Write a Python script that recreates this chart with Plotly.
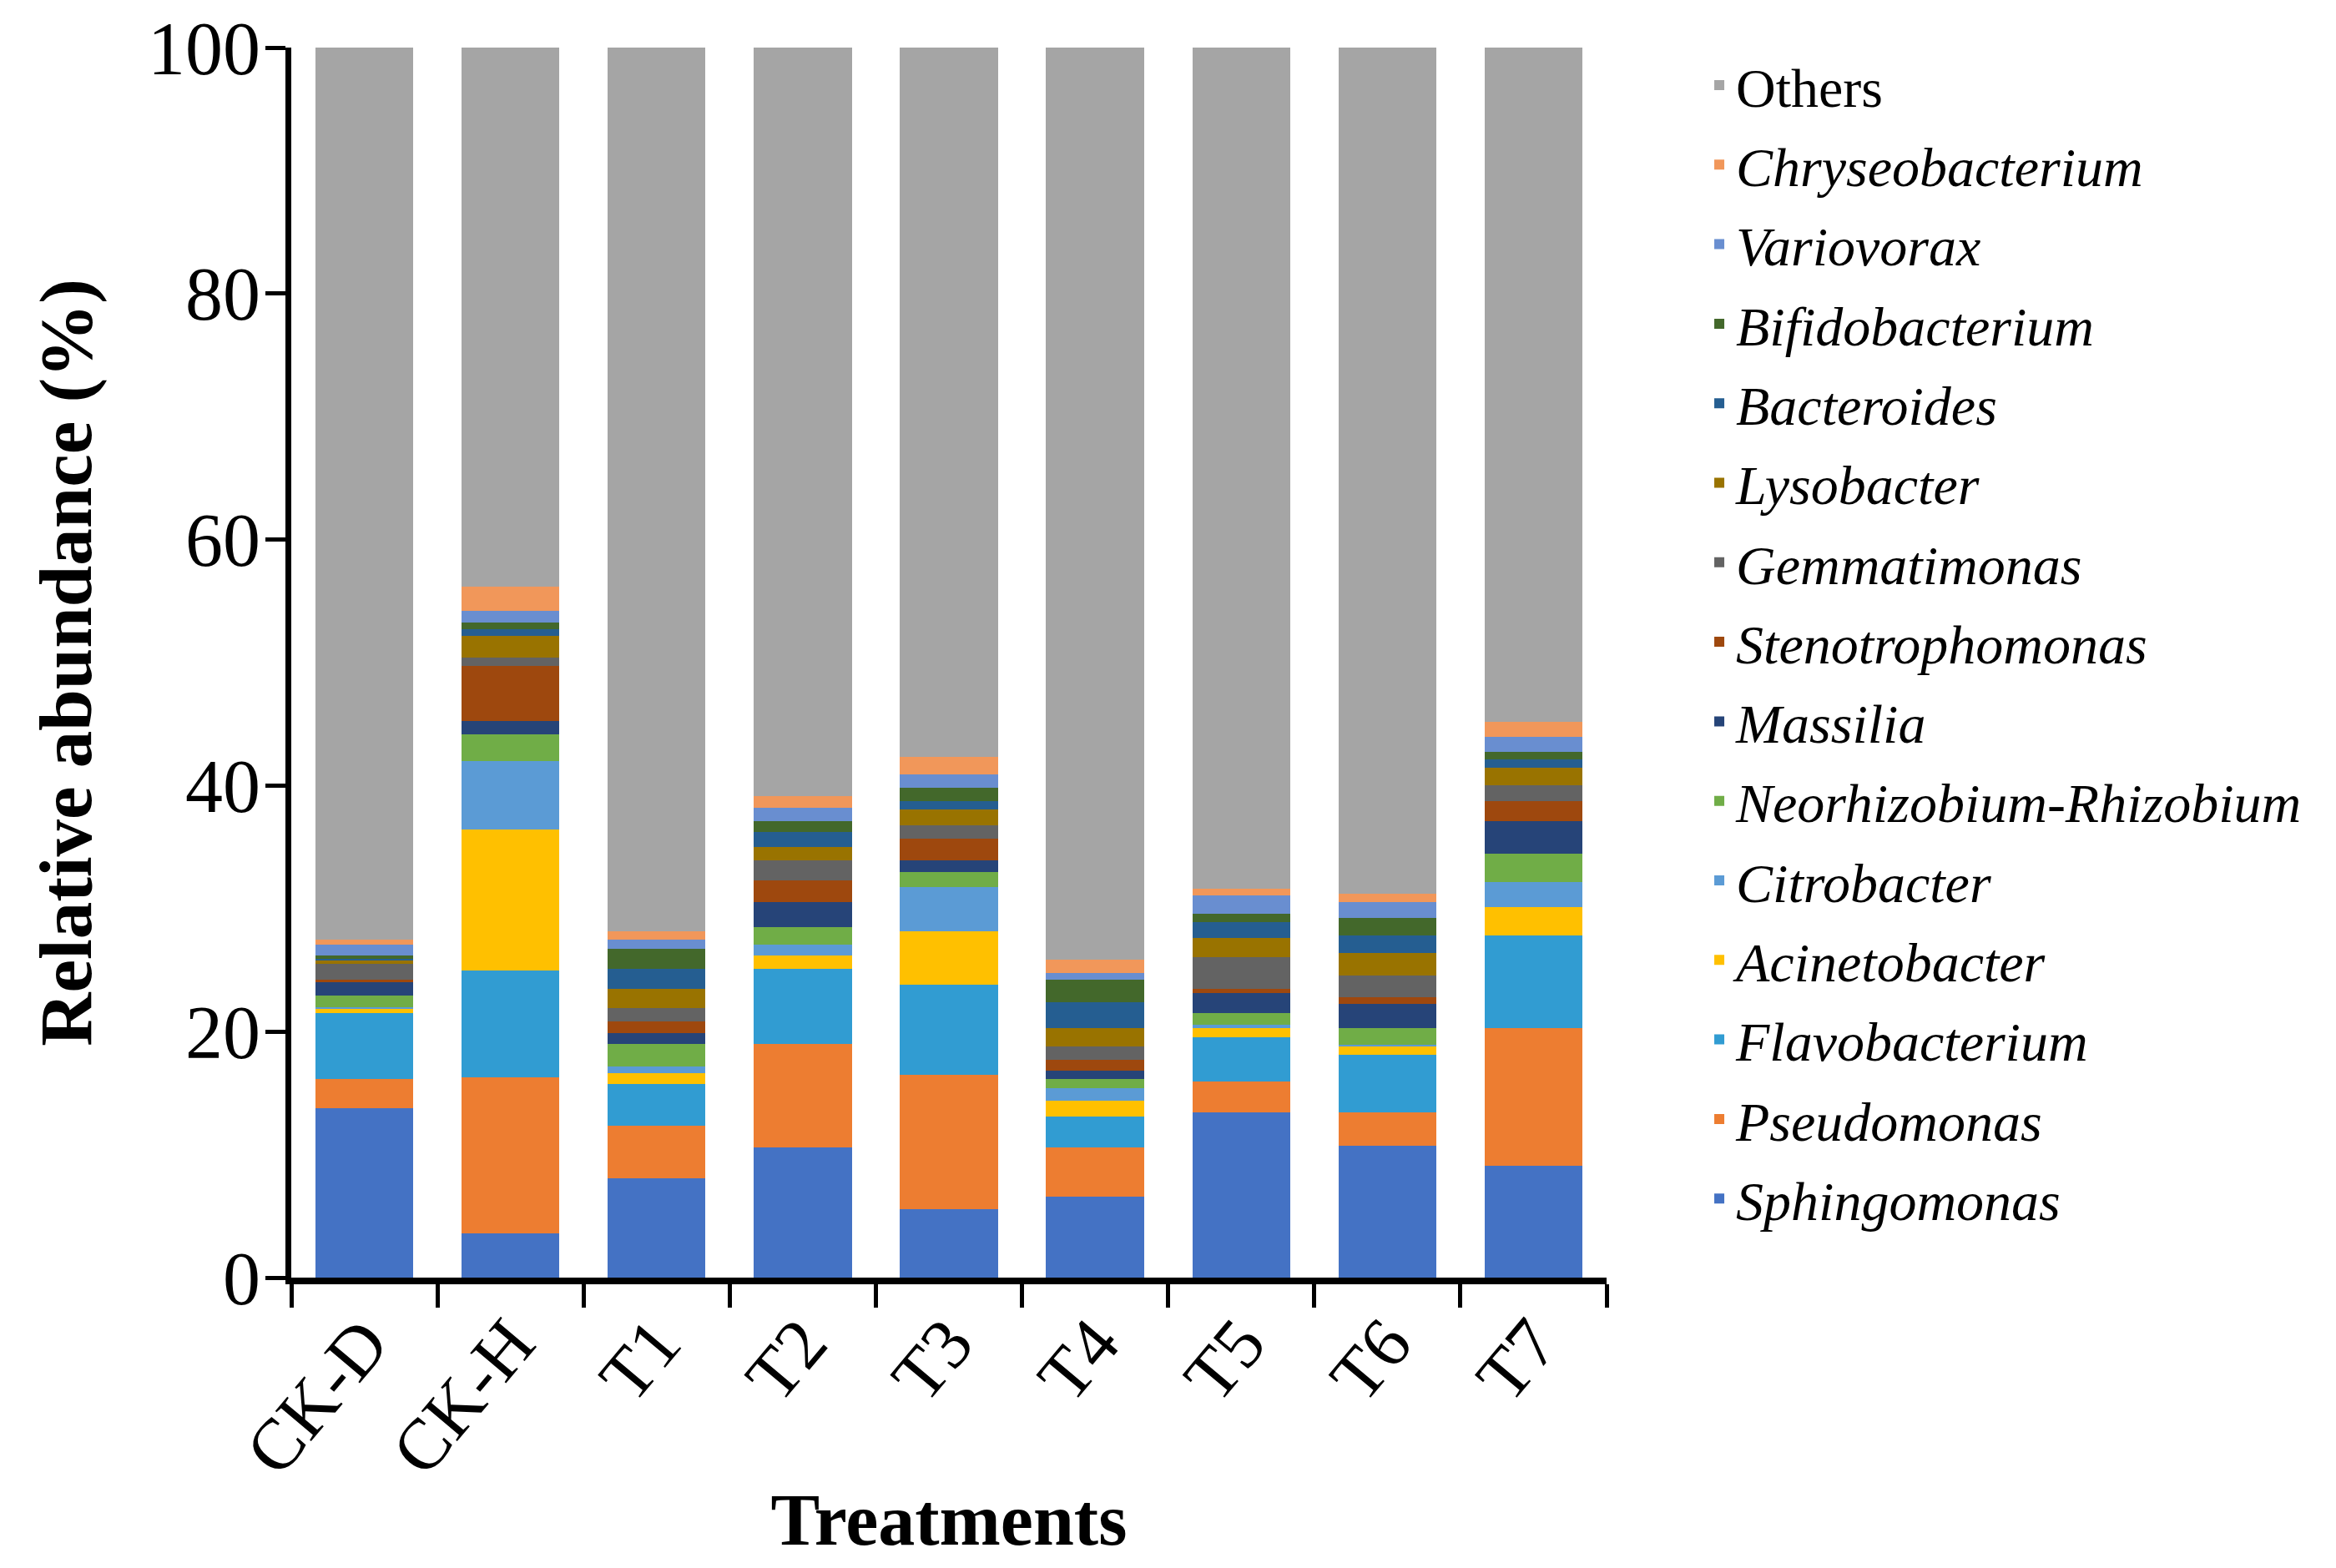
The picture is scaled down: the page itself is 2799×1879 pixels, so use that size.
import plotly.graph_objects as go

categories = ["CK-D", "CK-H", "T1", "T2", "T3", "T4", "T5", "T6", "T7"]

sphingomonas = [13.77, 3.57, 8.05, 10.56, 5.54, 6.60, 13.46, 10.74, 9.11]
pseudomonas = [2.36, 12.74, 4.33, 8.44, 10.95, 3.99, 2.49, 2.72, 11.17]
flavobacterium = [5.36, 8.63, 3.39, 6.09, 7.35, 2.48, 3.57, 4.67, 7.53]
acinetobacter = [0.39, 11.47, 0.87, 1.09, 4.34, 1.28, 0.76, 0.69, 2.33]
citrobacter = [0.10, 5.57, 0.55, 0.90, 3.57, 1.05, 0.30, 0.12, 2.00]
neorhizobium = [0.96, 2.16, 1.79, 1.43, 1.24, 0.73, 0.91, 1.34, 2.30]
massilia = [1.06, 1.08, 0.93, 2.00, 0.94, 0.72, 1.66, 1.96, 2.69]
stenotrophomonas = [0.21, 4.50, 0.91, 1.78, 1.78, 0.89, 0.33, 0.55, 1.61]
gemmatimonas = [1.27, 0.70, 1.06, 1.64, 1.06, 1.08, 2.55, 1.79, 1.26]
lysobacter = [0.36, 1.78, 1.60, 1.05, 1.27, 1.46, 1.60, 1.78, 1.46]
bacteroides = [0.10, 0.52, 1.64, 1.28, 0.73, 2.11, 1.24, 1.45, 0.70]
bifidobacterium = [0.27, 0.57, 1.60, 0.87, 1.06, 1.82, 0.73, 1.42, 0.55]
variovorax = [0.87, 0.90, 0.73, 1.07, 1.06, 0.58, 1.45, 1.28, 1.26]
chryseobacterium = [0.37, 1.99, 0.73, 0.93, 1.45, 1.05, 0.54, 0.72, 1.24]
others = [72.55, 43.82, 71.82, 60.87, 57.66, 74.16, 68.41, 68.77, 54.79]

series_names = ["Sphingomonas", "Pseudomonas", "Flavobacterium", "Acinetobacter",
                "Citrobacter", "Neorhizobium-Rhizobium", "Massilia", "Stenotrophomonas",
                "Gemmatimonas", "Lysobacter", "Bacteroides", "Bifidobacterium",
                "Variovorax", "Chryseobacterium", "Others"]
series_values = [sphingomonas, pseudomonas, flavobacterium, acinetobacter, citrobacter,
                 neorhizobium, massilia, stenotrophomonas, gemmatimonas, lysobacter,
                 bacteroides, bifidobacterium, variovorax, chryseobacterium, others]
colors = ["#4472C4", "#ED7D31", "#319CD2", "#FFC000", "#5B9BD5", "#70AD47", "#264478",
          "#9E480E", "#636363", "#997300", "#255E91", "#43682B", "#698ED0", "#F1975A",
          "#A5A5A5"]

FONT = "Liberation Serif, Times New Roman, serif"

fig = go.Figure()
n = len(series_names)
for i, (name, vals, col) in enumerate(zip(series_names, series_values, colors)):
    label = name if name == "Others" else "<i>" + name + "</i>"
    fig.add_trace(go.Bar(x=categories, y=vals, name=label, legendgroup=name,
                         legendrank=100 * (n - i),
                         marker=dict(color=col, line=dict(width=0))))

fig.update_layout(
    width=2799, height=1879,
    barmode="stack", bargap=0.33,
    paper_bgcolor="white", plot_bgcolor="white",
    margin=dict(l=341, r=882, t=49, b=356),
    font=dict(family=FONT, color="black"),
    legend=dict(traceorder="grouped", x=1.073, xanchor="left", y=1.003,
                yanchor="top", tracegroupgap=6.5, maxheight=1850,
                font=dict(family=FONT, size=66, color="black"),
                bgcolor="rgba(0,0,0,0)"),
    showlegend=True,
)
fig.update_yaxes(range=[0, 100], dtick=20, showgrid=False, zeroline=False,
                 showline=True, linecolor="black", linewidth=7, automargin=False,
                 ticks="outside", ticklen=24, tickwidth=5, tickcolor="black",
                 ticklabelstandoff=-12, ticklabeloverflow="allow",
                 tickfont=dict(family=FONT, size=90, color="black"),
                 title=dict(text="<b>Relative abundance (%)</b>", standoff=40,
                            font=dict(family=FONT, size=89, color="black")))
fig.update_xaxes(showgrid=False, showline=True, linecolor="black", linewidth=8,
                 ticks="outside", tickson="boundaries", ticklen=28, tickwidth=5,
                 tickcolor="black", tickangle=-50, ticklabelstandoff=-15,
                 tickfont=dict(family=FONT, size=86, color="black"),
                 title=dict(text="<b>Treatments</b>", standoff=8,
                            font=dict(family=FONT, size=88, color="black")))

fig.write_html("out.html")
